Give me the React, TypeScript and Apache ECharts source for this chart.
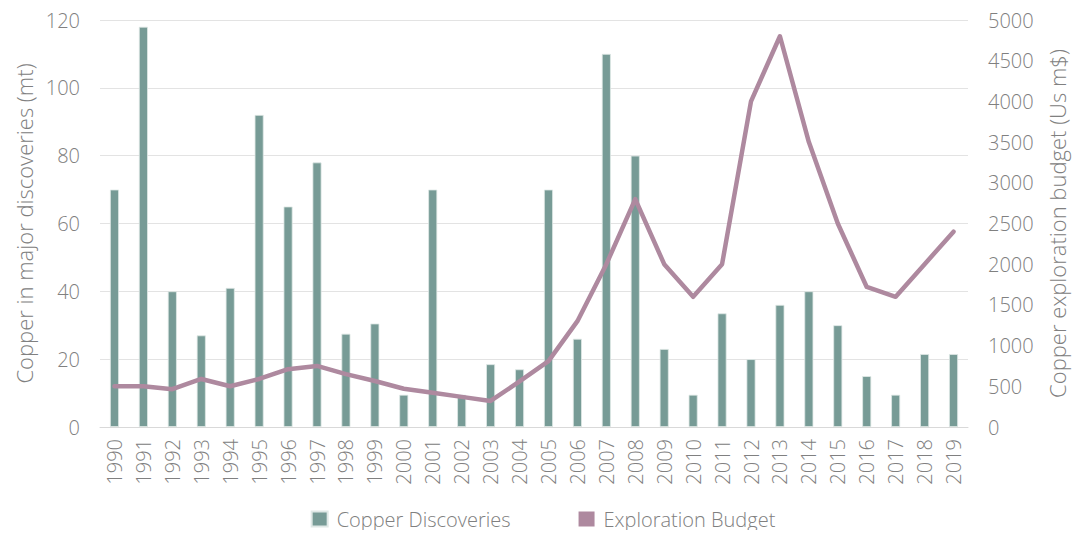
import React, { useEffect, useRef } from "react";
import * as echarts from "echarts";

const years = [
  "1990", "1991", "1992", "1993", "1994", "1995", "1996", "1997", "1998", "1999",
  "2000", "2001", "2002", "2003", "2004", "2005", "2006", "2007", "2008", "2009",
  "2010", "2011", "2012", "2013", "2014", "2015", "2016", "2017", "2018", "2019",
];

const copperDiscoveries = [
  70, 118, 40, 27, 41, 92, 65, 78, 27.5, 30.5,
  9.5, 70, 9.5, 18.5, 17, 70, 26, 110, 80, 23,
  9.5, 33.5, 20, 36, 40, 30, 15, 9.5, 21.5, 21.5,
];

const explorationBudget = [
  500, 500, 465, 590, 500, 590, 710, 750, 650, 565,
  470, 420, 370, 320, 560, 810, 1300, 2000, 2800, 2000,
  1600, 2000, 4000, 4800, 3500, 2500, 1720, 1600, 2000, 2400,
];

const FONT = "'Source Sans Pro', 'Open Sans', Lato, sans-serif";
const TEXT = "#808080";
const BAR = "#779b96";
const LINE = "#ae899f";

export default function App() {
  const ref = useRef<HTMLDivElement>(null);

  useEffect(() => {
    if (!ref.current) return;
    const chart = echarts.init(ref.current, undefined, { renderer: "svg" });
    chart.setOption({
      animation: false,
      textStyle: { fontFamily: FONT, fontWeight: 300, color: TEXT },
      grid: { left: 100, right: 118, top: 20, bottom: 111, containLabel: false },
      legend: {
        bottom: 4,
        left: "center",
        itemWidth: 16,
        itemHeight: 15,
        itemGap: 68,
        icon: "rect",
        textStyle: { fontFamily: FONT, fontWeight: 300, fontSize: 20, color: TEXT, padding: [0, 0, 0, 4] },
        data: ["Copper Discoveries", "Exploration Budget"],
      },
      xAxis: {
        type: "category",
        data: years,
        axisLine: { show: true, lineStyle: { color: "#d9d9d9", width: 1 } },
        axisTick: { show: false },
        axisLabel: {
          rotate: 90,
          interval: 0,
          margin: 12,
          fontSize: 20,
          fontFamily: FONT,
          fontWeight: 300,
          color: TEXT,
        },
      },
      yAxis: [
        {
          type: "value",
          min: 0,
          max: 120,
          interval: 20,
          name: "Copper in major discoveries (mt)",
          nameLocation: "middle",
          nameGap: 63,
          nameTextStyle: { fontSize: 22, fontFamily: FONT, fontWeight: 300, color: TEXT },
          axisLine: { show: false },
          axisTick: { show: false },
          axisLabel: { fontSize: 20, fontFamily: FONT, fontWeight: 300, color: TEXT, margin: 20 },
          splitLine: { show: true, lineStyle: { color: "#e3e3e3", width: 1 } },
        },
        {
          type: "value",
          min: 0,
          max: 5000,
          interval: 500,
          name: "Copper exploration budget (Us m$)",
          nameLocation: "middle",
          nameGap: 78,
          nameRotate: 90,
          nameTextStyle: { fontSize: 22, fontFamily: FONT, fontWeight: 300, color: TEXT },
          axisLine: { show: false },
          axisTick: { show: false },
          axisLabel: {
            fontSize: 20,
            fontFamily: FONT,
            fontWeight: 300,
            color: TEXT,
            margin: 20,
            formatter: (v: number) => String(v),
          },
          splitLine: { show: false },
        },
      ],
      series: [
        {
          name: "Copper Discoveries",
          type: "bar",
          yAxisIndex: 0,
          data: copperDiscoveries,
          barWidth: 9,
          itemStyle: { color: BAR, borderColor: "#dfe8e6", borderWidth: 0.8 },
        },
        {
          name: "Exploration Budget",
          type: "line",
          yAxisIndex: 1,
          data: explorationBudget,
          symbol: "none",
          lineStyle: { color: LINE, width: 4.5, join: "round", cap: "round" },
          itemStyle: { color: LINE },
        },
      ],
    });
    return () => chart.dispose();
  }, []);

  return <div ref={ref} style={{ width: 1086, height: 538, margin: -8 }} />;
}
